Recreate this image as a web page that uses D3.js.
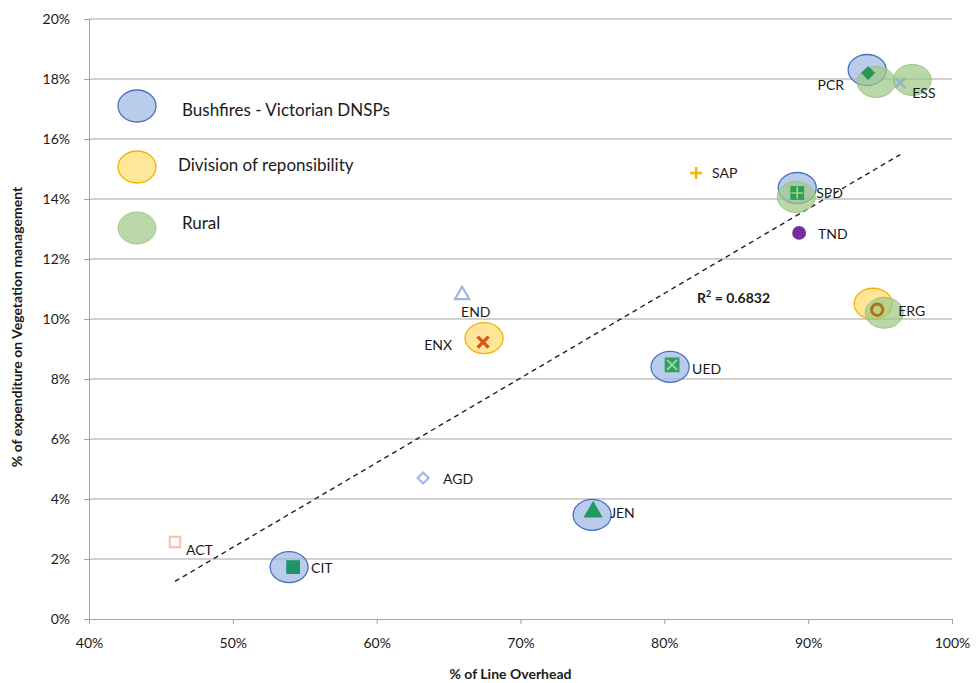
<!DOCTYPE html>
<html>
<head>
<meta charset="utf-8">
<script src="https://cdn.jsdelivr.net/npm/d3@7"></script>
<style>
  html, body { margin: 0; padding: 0; background: #fff; }
  svg text { font-family: Lato, "Open Sans", "Liberation Sans", sans-serif; fill: #1a1a1a; }
</style>
</head>
<body>
<svg id="chart" width="977" height="683"></svg>
<script>
// ---- Data: distributors, share of overhead line, share of spend on vegetation management
const codes        = ["ACT", "CIT", "AGD", "END", "ENX", "JEN", "UED", "SAP", "SPD", "TND", "PCR", "ERG", "ESS"];
const lineOverhead = [0.4598, 0.5419, 0.6323, 0.6594, 0.6740, 0.7505, 0.8054, 0.8221, 0.8924, 0.8937, 0.9417, 0.9480, 0.9640];
const vegSpend     = [0.0257, 0.0173, 0.0470, 0.1080, 0.0923, 0.0357, 0.0847, 0.1487, 0.1420, 0.1287, 0.1820, 0.10308, 0.1787];

// Highlight groups
const bushfireGroup = ["PCR", "SPD", "UED", "JEN", "CIT"];
const divisionGroup = ["ENX", "ERG"];
const ruralGroup    = ["PCR", "ESS", "SPD", "ERG"];
const legendLabels  = ["Bushfires - Victorian DNSPs", "Division of reponsibility", "Rural"];

// Axis ticks
const xTicks = [0.4, 0.5, 0.6, 0.7, 0.8, 0.9, 1.0];
const yTicks = [0, 0.02, 0.04, 0.06, 0.08, 0.10, 0.12, 0.14, 0.16, 0.18, 0.20];

// ---- Layout
const svg = d3.select("#chart");
const plot = { left: 89, right: 952, top: 19, bottom: 619 };
const x = d3.scaleLinear().domain([0.4, 1.0]).range([plot.left, plot.right]);
const y = d3.scaleLinear().domain([0, 0.2]).range([plot.bottom, plot.top]);
const pct = d3.format(".0%");
const gridColor = "#a3a3a3";

// Horizontal gridlines
svg.append("g").selectAll("line").data(yTicks.slice(1)).join("line")
  .attr("x1", plot.left).attr("x2", plot.right)
  .attr("y1", d => y(d)).attr("y2", d => y(d))
  .attr("stroke", gridColor).attr("stroke-width", 1);

// Axes
const xAxis = svg.append("g").attr("transform", `translate(0,${plot.bottom})`)
  .call(d3.axisBottom(x).tickValues(xTicks).tickFormat(pct).tickSize(5).tickPadding(14));
const yAxis = svg.append("g").attr("transform", `translate(${plot.left},0)`)
  .call(d3.axisLeft(y).tickValues(yTicks).tickFormat(pct).tickSize(5).tickPadding(14));
[xAxis, yAxis].forEach(g => {
  g.select(".domain").attr("stroke", gridColor);
  g.selectAll(".tick line").attr("stroke", gridColor);
  g.selectAll(".tick text").attr("font-size", 14).attr("fill", "#333")
    .style("font-family", "Lato, 'Open Sans', sans-serif");
});
yAxis.selectAll(".tick text").attr("dy", "0.35em");

// Axis titles
svg.append("text").attr("x", (plot.left + plot.right) / 2 - 10).attr("y", 679)
  .attr("text-anchor", "middle").attr("font-size", 14).attr("font-weight", "bold")
  .text("% of Line Overhead");
svg.append("text").attr("transform", `translate(22,${(plot.top + plot.bottom) / 2 + 8}) rotate(-90)`)
  .attr("text-anchor", "middle").attr("font-size", 14).attr("font-weight", "bold")
  .text("% of expenditure on Vegetation management");

// ---- Linear trend (least squares) over all distributors
const mx = d3.mean(lineOverhead), my = d3.mean(vegSpend);
let sxy = 0, sxx = 0, syy = 0;
lineOverhead.forEach((xv, i) => {
  sxy += (xv - mx) * (vegSpend[i] - my);
  sxx += (xv - mx) ** 2;
  syy += (vegSpend[i] - my) ** 2;
});
const slope = sxy / sxx, intercept = my - slope * mx;
const r2 = (sxy * sxy) / (sxx * syy);
const [xmin, xmax] = d3.extent(lineOverhead);
svg.append("line")
  .attr("x1", x(xmin)).attr("y1", y(intercept + slope * xmin))
  .attr("x2", x(xmax)).attr("y2", y(intercept + slope * xmax))
  .attr("stroke", "#222").attr("stroke-width", 1.4).attr("stroke-dasharray", "5,4");

const r2Text = svg.append("text").attr("x", 697).attr("y", 303)
  .attr("font-size", 14).attr("font-weight", "bold");
r2Text.append("tspan").text("R");
r2Text.append("tspan").attr("dy", -6).attr("font-size", 9).text("2");
r2Text.append("tspan").attr("dy", 6).text(" = " + r2.toFixed(4));

// ---- Highlight halos
const haloStyles = {
  blue:   { fill: "rgba(160,184,228,0.72)", stroke: "#4a70c0", sw: 1.3 },
  yellow: { fill: "rgba(255,214,90,0.62)",  stroke: "#efb400", sw: 1.3 },
  green:  { fill: "rgba(160,200,135,0.72)", stroke: "rgba(150,195,125,0.9)", sw: 1 }
};
// small pixel nudges so overlapping halos stay readable
const haloNudge = {
  blue:   { PCR: [-1, -3], SPD: [0, -5], UED: [-2, 2], JEN: [-1, 3], CIT: [-4, 0] },
  yellow: { ENX: [1, -4], ERG: [-4, -6] },
  green:  { PCR: [8, 9], ESS: [12, -3], SPD: [-1, 4], ERG: [7, 3] }
};
const idx = c => codes.indexOf(c);
const haloLayer = svg.append("g");
[["blue", bushfireGroup], ["yellow", divisionGroup], ["green", ruralGroup]].forEach(([key, group]) => {
  const st = haloStyles[key];
  haloLayer.append("g").selectAll("ellipse").data(group).join("ellipse")
    .attr("cx", c => x(lineOverhead[idx(c)]) + haloNudge[key][c][0])
    .attr("cy", c => y(vegSpend[idx(c)]) + haloNudge[key][c][1])
    .attr("rx", 19).attr("ry", 15.5)
    .attr("fill", st.fill).attr("stroke", st.stroke).attr("stroke-width", st.sw);
});

// ---- Markers
const sym = (type, size) => d3.symbol().type(type).size(size)();
const diamond = s => `M0,${-s}L${s},0L0,${s}L${-s},0Z`;
const cross = s => `M${-s},${-s}L${s},${s}M${-s},${s}L${s},${-s}`;
const markerDraw = {
  ACT: g => g.append("path").attr("d", sym(d3.symbolSquare, 110)).attr("fill", "#fff").attr("stroke", "#f4bfae").attr("stroke-width", 2),
  CIT: g => g.append("path").attr("d", sym(d3.symbolSquare, 190)).attr("fill", "#1f9466"),
  AGD: g => g.append("path").attr("d", diamond(5.5)).attr("fill", "#fff").attr("stroke", "#9fb7e2").attr("stroke-width", 2.2),
  END: g => g.append("path").attr("d", sym(d3.symbolTriangle, 90)).attr("fill", "#fff").attr("stroke", "#9fb7e2").attr("stroke-width", 2.2),
  ENX: g => g.append("path").attr("d", cross(5.5)).attr("stroke", "#e0541c").attr("stroke-width", 3.4),
  JEN: g => g.append("path").attr("d", sym(d3.symbolTriangle, 160)).attr("fill", "#1f9a5c"),
  UED: g => { g.append("path").attr("d", sym(d3.symbolSquare, 220)).attr("fill", "#2e9e64");
              g.append("path").attr("d", cross(5)).attr("stroke", "#9fd4a6").attr("stroke-width", 2); },
  SAP: g => g.append("path").attr("d", "M-6,0L6,0M0,-6L0,6").attr("stroke", "#f5b400").attr("stroke-width", 2.5),
  SPD: g => { g.append("path").attr("d", sym(d3.symbolSquare, 190)).attr("fill", "#2e9e50");
              g.append("path").attr("d", "M-6,0L6,0M0,-6L0,6").attr("stroke", "#9fd88e").attr("stroke-width", 1.6); },
  TND: g => g.append("path").attr("d", sym(d3.symbolCircle, 150)).attr("fill", "#7030a0"),
  PCR: g => g.append("path").attr("d", diamond(7)).attr("fill", "#2a9652"),
  ERG: g => g.append("path").attr("d", sym(d3.symbolCircle, 100)).attr("fill", "none").attr("stroke", "#a8741a").attr("stroke-width", 3),
  ESS: g => g.append("path").attr("d", cross(5)).attr("stroke", "#98b0cc").attr("stroke-width", 2.5)
};
const markers = svg.append("g").selectAll("g").data(codes).join("g")
  .attr("transform", (c, i) => `translate(${x(lineOverhead[i])},${y(vegSpend[i])})`);
markers.each(function (c) { markerDraw[c](d3.select(this)); });

// ---- Data labels (placement relative to marker)
const labelPlace = {
  ACT: [11, 8, "start"], CIT: [18, 1, "start"], AGD: [20, 1, "start"], END: [-1, 17, "start"],
  ENX: [-31, 3, "end"], JEN: [17, 1, "start"], UED: [20, 4, "start"], SAP: [16, 0, "start"],
  SPD: [19, 0, "start"], TND: [19, 1, "start"], PCR: [-24, 12, "end"], ERG: [21, 1, "start"],
  ESS: [12, 10, "start"]
};
svg.append("g").selectAll("text").data(codes).join("text")
  .attr("x", (c, i) => x(lineOverhead[i]) + labelPlace[c][0])
  .attr("y", (c, i) => y(vegSpend[i]) + labelPlace[c][1])
  .attr("dy", "0.35em").attr("text-anchor", c => labelPlace[c][2])
  .attr("font-size", 14).text(c => c);

// ---- Legend
const legendKeys = ["blue", "yellow", "green"];
const legendRowY = [106, 167, 228];
const legendTextX = [182, 178, 182];
const legend = svg.append("g");
legendKeys.forEach((k, i) => {
  const st = haloStyles[k];
  legend.append("ellipse").attr("cx", 137).attr("cy", legendRowY[i]).attr("rx", 19).attr("ry", 16)
    .attr("fill", st.fill).attr("stroke", st.stroke).attr("stroke-width", st.sw);
  legend.append("text").attr("x", legendTextX[i]).attr("y", legendRowY[i] + (i === 0 ? 4 : (i === 1 ? -2 : -5)))
    .attr("dy", "0.35em").attr("font-size", 17).text(legendLabels[i]);
});
</script>
</body>
</html>
